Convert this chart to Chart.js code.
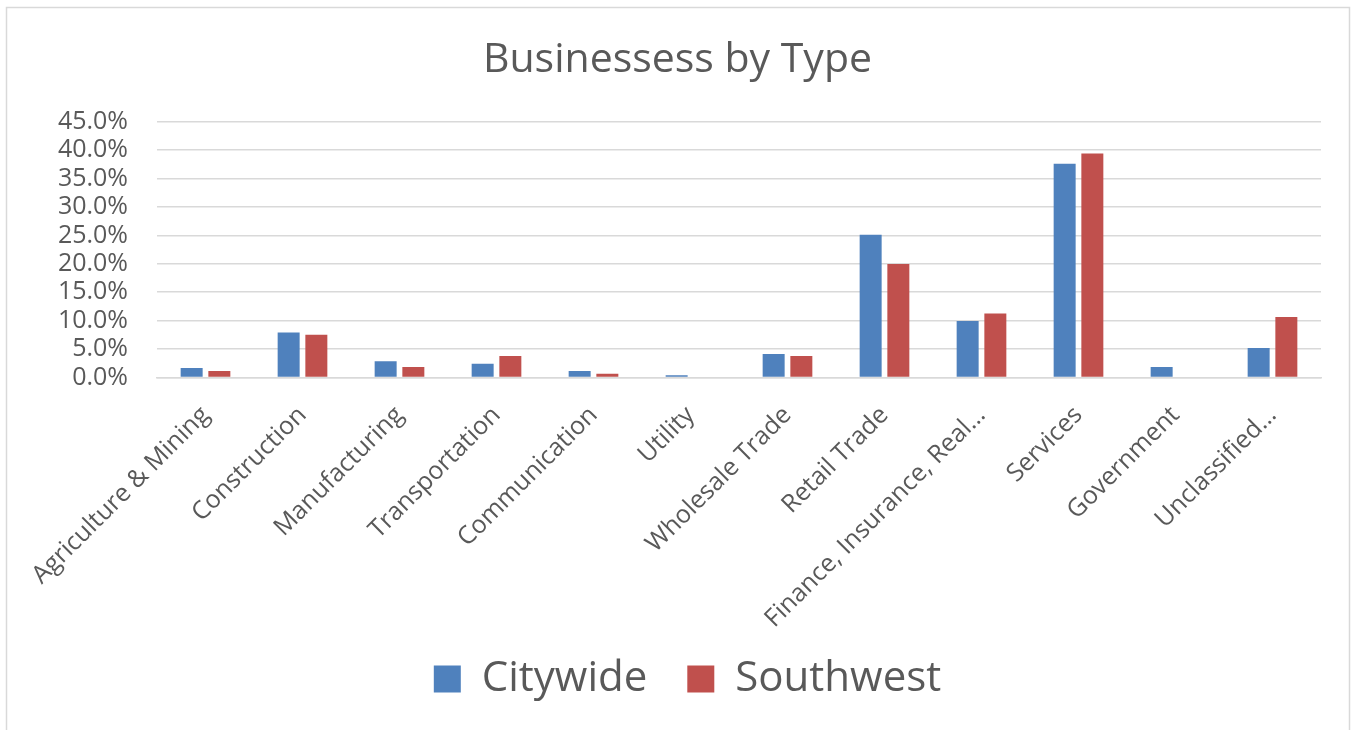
<!DOCTYPE html>
<html>
<head>
<meta charset="utf-8">
<script src="https://cdn.jsdelivr.net/npm/chart.js@4"></script>
<style>
  html, body { margin: 0; padding: 0; background: #ffffff; }
  #wrap { width: 1351px; height: 730px; position: relative; }
</style>
</head>
<body>
<div id="wrap"><canvas id="c" width="1351" height="730"></canvas></div>
<script>
const categories = [
  "Agriculture & Mining", "Construction", "Manufacturing", "Transportation",
  "Communication", "Utility", "Wholesale Trade", "Retail Trade",
  "Finance, Insurance, Real\u2026", "Services", "Government", "Unclassified\u2026"
];
const citywide  = [1.65, 7.9, 2.85, 2.4, 1.15, 0.4, 4.15, 25.1, 9.95, 37.6, 1.85, 5.2];
const southwest = [1.15, 7.5, 1.85, 3.8, 0.65, 0.0, 3.8, 19.95, 11.25, 39.4, 0.0, 10.65];
const yTicks = [0, 5, 10, 15, 20, 25, 30, 35, 40, 45];

const FONT = "'Open Sans', sans-serif";
const TEXT = "#595959";
const GRID = "#d9d9d9";

const frame = {
  id: 'frame',
  beforeDraw(chart) {
    const ctx = chart.ctx;
    ctx.save();
    ctx.fillStyle = '#ffffff';
    ctx.fillRect(0, 0, chart.width, chart.height);
    ctx.strokeStyle = GRID;
    ctx.lineWidth = 1.5;
    ctx.strokeRect(6.5, 7.5, chart.width - 8, chart.height + 20);
    ctx.restore();
  },
  afterLayout(chart) {
    const lg = chart.legend;
    if (lg) { lg.left += 27; lg.right += 27; lg.top -= 14.5; lg.bottom -= 14.5; }
    const t = chart.titleBlock;
    if (t) { t.left += 17; t.right += 17; }
  }
};

new Chart(document.getElementById('c'), {
  type: 'bar',
  data: {
    labels: categories,
    datasets: [
      { label: 'Citywide', data: citywide, backgroundColor: '#4f81bd',
        categoryPercentage: 0.571, barPercentage: 0.794 },
      { label: 'Southwest', data: southwest, backgroundColor: '#c0504d',
        categoryPercentage: 0.571, barPercentage: 0.794 }
    ]
  },
  options: {
    responsive: false,
    animation: false,
    devicePixelRatio: 1,
    layout: { padding: { left: 0, right: 30, top: 0, bottom: 5.5 } },
    plugins: {
      title: {
        display: true,
        text: 'Businessess by Type',
        color: TEXT,
        font: { family: FONT, size: 41, weight: 'normal', lineHeight: 1.2 },
        padding: { top: 36, bottom: 36.5 }
      },
      legend: {
        display: true,
        position: 'bottom',
        labels: {
          color: TEXT,
          font: { family: FONT, size: 42 },
          boxWidth: 27,
          boxHeight: 27,
          padding: 40
        }
      },
      tooltip: { enabled: false }
    },
    scales: {
      x: {
        grid: { display: false },
        border: { display: true, color: GRID, width: 1.5 },
        ticks: {
          color: TEXT,
          font: { family: FONT, size: 25 },
          minRotation: 45,
          maxRotation: 45,
          autoSkip: false,
          padding: 15
        },
        afterFit(scale) { scale.height = 255; }
      },
      y: {
        min: 0,
        max: 45,
        afterBuildTicks(scale) { scale.ticks = yTicks.map(v => ({ value: v })); },
        grid: { color: GRID, lineWidth: 1.5, drawTicks: false },
        border: { display: false },
        ticks: {
          color: TEXT,
          font: { family: FONT, size: 25 },
          padding: 29,
          autoSkip: false,
          callback: (v) => Number(v).toFixed(1) + '%'
        },
        afterFit(scale) { scale.width = 157; }
      }
    }
  },
  plugins: [frame]
});
</script>
</body>
</html>
